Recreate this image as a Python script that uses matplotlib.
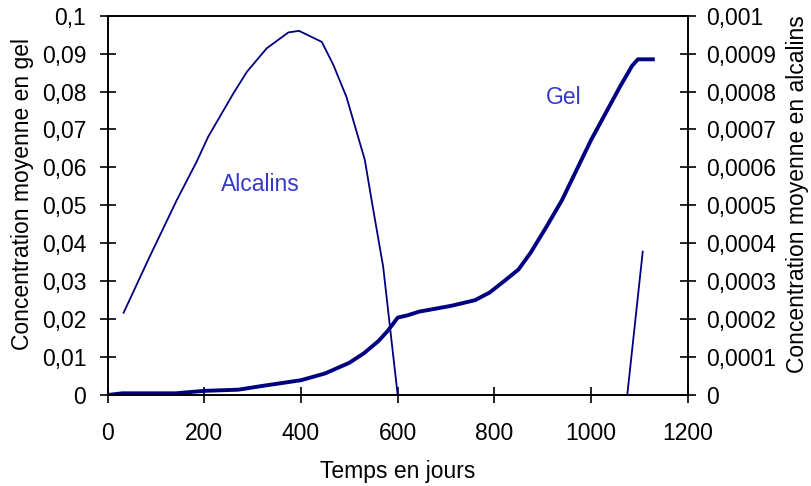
import numpy as np
import matplotlib.pyplot as plt
from matplotlib.ticker import FuncFormatter, MultipleLocator

plt.rcParams['font.family'] = ['Liberation Sans', 'DejaVu Sans']

# Gel (left axis)
gel_days = [0, 30, 140, 200, 270, 320, 400, 450, 500, 530, 560, 580, 600, 620, 645, 680,
            710, 760, 790, 820, 850, 875, 908, 940, 1000, 1060, 1085, 1097, 1132]
gel_conc = [0, 0.00045, 0.00045, 0.0011, 0.0014, 0.0024, 0.0039, 0.0057, 0.0085, 0.011, 0.0142,
            0.017, 0.0204, 0.021, 0.022, 0.0228, 0.0235, 0.025, 0.027, 0.030, 0.0331, 0.0375,
            0.0444, 0.0514, 0.0672, 0.0813, 0.0868, 0.0885, 0.0885]

# Alcalins (right axis), two segments
alc_days_1 = [33, 87, 143, 184, 208, 260, 288, 329, 374, 396, 443, 467, 494, 518, 532, 546,
              570, 584, 600]
alc_conc_1 = [0.000217, 0.000365, 0.000514, 0.000615, 0.000681, 0.000795, 0.000852, 0.000914,
              0.000956, 0.00096, 0.000931, 0.00087, 0.000786, 0.000681, 0.00062, 0.000514,
              0.000338, 0.00018, 0.0]
alc_days_2 = [1075, 1107]
alc_conc_2 = [0.0, 0.000378]

navy = '#000080'
txt_blue = '#3838c8'
fs = 16.5

fig = plt.figure(figsize=(8.12, 4.86), dpi=100)
ax = fig.add_axes([0.1326, 0.1872, 0.7143, 0.7805])
ax2 = ax.twinx()

ax.plot(gel_days, gel_conc, color=navy, linewidth=2.8, solid_capstyle='butt', zorder=3)
ax2.plot(alc_days_1, alc_conc_1, color=navy, linewidth=1.3, clip_on=False)
ax2.plot(alc_days_2, alc_conc_2, color=navy, linewidth=1.3, clip_on=False)

ax.set_xlim(0, 1200)
ax.set_ylim(0, 0.1)
ax2.set_ylim(0, 0.001)
ax.xaxis.set_major_locator(MultipleLocator(200))
ax.yaxis.set_major_locator(MultipleLocator(0.01))
ax2.yaxis.set_major_locator(MultipleLocator(0.0001))


def fmt(decimals):
    def f(v, pos):
        s = f"{v:.{decimals}f}".rstrip('0').rstrip('.')
        return s.replace('.', ',')
    return f


ax.yaxis.set_major_formatter(FuncFormatter(fmt(2)))
ax2.yaxis.set_major_formatter(FuncFormatter(fmt(4)))

for a in (ax, ax2):
    for sp in a.spines.values():
        sp.set_linewidth(1.2)
ax.tick_params(axis='y', direction='inout', length=11, width=1.2, pad=10, labelsize=fs)
ax.tick_params(axis='x', direction='inout', length=11, width=1.2, pad=14, labelsize=fs)
ax2.tick_params(axis='y', direction='inout', length=11, width=1.2, pad=7.5, labelsize=fs)

ax.set_xlabel('Temps en jours', fontsize=fs)
ax.xaxis.set_label_coords(0.5, -0.202)
ax.xaxis.label.set_va('center')
ax.set_ylabel('Concentration moyenne en gel', fontsize=fs)
ax.yaxis.set_label_coords(-0.147, 0.53)
ax.yaxis.label.set_va('center')
ax2.set_ylabel('Concentration moyenne en alcalins', fontsize=fs, rotation=90)
ax2.yaxis.set_label_coords(1.19, 0.53)
ax2.yaxis.label.set_va('center')

ax.text(316, 0.0556, 'Alcalins', color=txt_blue, fontsize=fs, ha='center', va='center')
ax.text(944, 0.0784, 'Gel', color=txt_blue, fontsize=fs, ha='center', va='center')

fig.savefig('out.png', dpi=100)
